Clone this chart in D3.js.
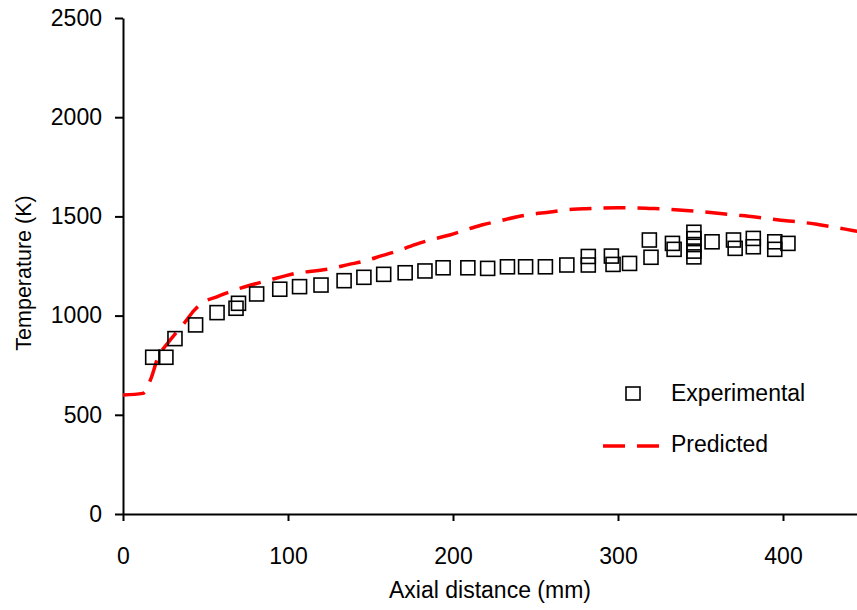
<!DOCTYPE html>
<html>
<head>
<meta charset="utf-8">
<script src="https://cdn.jsdelivr.net/npm/d3@7"></script>
<style>
    body { margin: 0; background: #fff; }
    svg { font-family: "Liberation Sans", Arial, sans-serif; }
</style>
</head>
<body>
<div id="chart"></div>
<script>
// Experimental measurements (axial distance in mm, temperature in K).
const expX = [18, 26, 31.5, 44, 57, 68.5, 70, 81, 95, 107, 120, 134, 146, 158, 171, 183, 194,
    209, 221, 233, 244, 256, 269, 282, 282, 296, 297, 307, 319, 320, 333, 334,
    346, 346, 346, 346, 346, 357, 370, 371, 382, 382, 395, 395, 403];
const expY = [790, 790, 884, 953, 1015, 1037, 1062, 1109, 1133, 1146, 1154, 1176, 1193, 1208, 1216, 1225, 1241,
    1241, 1238, 1246, 1246, 1246, 1255, 1298, 1255, 1300, 1258, 1263, 1381, 1294, 1364, 1334,
    1420, 1388, 1358, 1325, 1296, 1372, 1381, 1339, 1389, 1347, 1372, 1334, 1364];

// Model prediction.
const predX = [0, 12, 17, 21, 27, 37, 43, 49, 56, 63, 75, 85, 96, 105, 116, 125, 137, 145, 157, 165,
    177, 186, 198, 210, 218, 227, 239, 247, 259, 267, 279, 290, 300, 310, 320, 331, 341, 350,
    362, 370, 382, 390, 402, 410, 422, 431, 443, 450];
const predY = [600, 608, 684, 785, 860, 961, 1025, 1070, 1092, 1115, 1148, 1171, 1195, 1214, 1225, 1235, 1258, 1272, 1302, 1322,
    1358, 1381, 1406, 1438, 1458, 1475, 1498, 1510, 1522, 1532, 1538, 1542, 1543, 1543, 1540, 1536, 1530, 1524,
    1515, 1508, 1498, 1490, 1478, 1472, 1458, 1446, 1428, 1418];

const xTicks = [0, 100, 200, 300, 400];
const yTicks = [0, 500, 1000, 1500, 2000, 2500];

const width = 857, height = 610;
const margin = {top: 18, left: 123, bottom: 96};
const FONT = 23;

const svg = d3.select('#chart').append('svg')
    .attr('width', width)
    .attr('height', height);

const xScale = d3.scaleLinear().domain([0, 450]).range([margin.left, margin.left + 742.5]);
const yScale = d3.scaleLinear().domain([0, 2500]).range([height - margin.bottom, margin.top]);

// Axes.
const xAxis = d3.axisBottom(xScale).tickValues(xTicks).tickFormat(d3.format('d'))
    .tickSize(7).tickPadding(27).tickSizeOuter(0);
const yAxis = d3.axisLeft(yScale).tickValues(yTicks).tickFormat(d3.format('d'))
    .tickSize(8).tickPadding(13).tickSizeOuter(0);

svg.append('g')
    .attr('transform', `translate(0,${yScale(0)})`)
    .call(xAxis)
    .call(g => g.attr('font-size', FONT).attr('font-family', null))
    .call(g => g.selectAll('text').attr('fill', '#000'))
    .call(g => g.selectAll('line, path').attr('stroke', '#000').attr('stroke-width', 2));

svg.append('g')
    .attr('transform', `translate(${margin.left},0)`)
    .call(yAxis)
    .call(g => g.attr('font-size', FONT).attr('font-family', null))
    .call(g => g.selectAll('text').attr('fill', '#000'))
    .call(g => g.selectAll('line, path').attr('stroke', '#000').attr('stroke-width', 2));

// Axis titles.
svg.append('text')
    .attr('x', 490)
    .attr('y', 598)
    .attr('text-anchor', 'middle')
    .attr('font-size', FONT)
    .text('Axial distance (mm)');

svg.append('text')
    .attr('transform', 'translate(31,273) rotate(-90)')
    .attr('text-anchor', 'middle')
    .attr('font-size', 21.5)
    .text('Temperature (K)');

// Predicted line.
const line = d3.line()
    .x(d => xScale(d[0]))
    .y(d => yScale(d[1]))
    .curve(d3.curveMonotoneX);

svg.append('path')
    .datum(predX.map((x, i) => [x, predY[i]]))
    .attr('d', line)
    .attr('fill', 'none')
    .attr('stroke', '#ff0000')
    .attr('stroke-width', 3.5)
    .attr('stroke-dasharray', '22,12');

// Experimental squares.
const sq = 14;
svg.append('g')
    .selectAll('rect')
    .data(expX.map((x, i) => [x, expY[i]]))
    .join('rect')
    .attr('x', d => xScale(d[0]) - sq / 2)
    .attr('y', d => yScale(d[1]) - sq / 2)
    .attr('width', sq)
    .attr('height', sq)
    .attr('fill', 'none')
    .attr('stroke', '#000')
    .attr('stroke-width', 1.6);

// Legend.
const legend = svg.append('g');
legend.append('rect')
    .attr('x', 626).attr('y', 387)
    .attr('width', 14).attr('height', 13)
    .attr('fill', 'none').attr('stroke', '#000').attr('stroke-width', 1.6);
legend.append('text')
    .attr('x', 671).attr('y', 401)
    .attr('font-size', FONT)
    .text('Experimental');
legend.append('line')
    .attr('x1', 603).attr('x2', 659)
    .attr('y1', 446).attr('y2', 446)
    .attr('stroke', '#ff0000').attr('stroke-width', 3.5)
    .attr('stroke-dasharray', '22,12');
legend.append('text')
    .attr('x', 671).attr('y', 452)
    .attr('font-size', FONT)
    .text('Predicted');
</script>
</body>
</html>
